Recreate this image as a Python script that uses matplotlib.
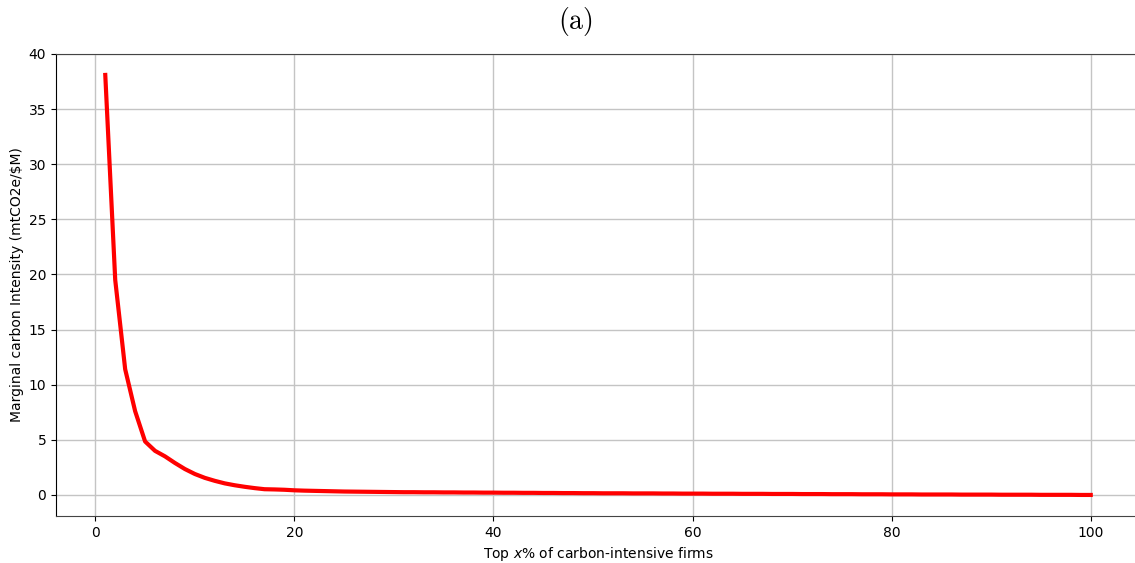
import numpy as np
import matplotlib.pyplot as plt

# top x% of firms
top_pct = list(range(1, 101))
# marginal carbon intensity (mtCO2e/$M)
intensity = [
    38.1, 19.5, 11.4, 7.6, 4.85, 4.0, 3.5, 2.9, 2.35, 1.9,
    1.55, 1.28, 1.05, 0.88, 0.74, 0.62, 0.52, 0.5, 0.47, 0.42,
    0.39, 0.37, 0.35, 0.33, 0.31, 0.3, 0.29, 0.28, 0.27, 0.26,
    0.25, 0.25, 0.24, 0.24, 0.23, 0.23, 0.22, 0.22, 0.21, 0.21,
    0.2, 0.2, 0.19, 0.19, 0.18, 0.18, 0.17, 0.17, 0.16, 0.16,
    0.15, 0.15, 0.15, 0.14, 0.14, 0.14, 0.13, 0.13, 0.12, 0.12,
    0.12, 0.11, 0.11, 0.11, 0.10, 0.10, 0.10, 0.09, 0.09, 0.09,
    0.08, 0.08, 0.08, 0.07, 0.07, 0.07, 0.06, 0.06, 0.06, 0.05,
    0.05, 0.05, 0.04, 0.04, 0.04, 0.04, 0.03, 0.03, 0.03, 0.03,
    0.02, 0.02, 0.02, 0.02, 0.01, 0.01, 0.01, 0.01, 0.0, 0.0,
]

fig = plt.figure(figsize=(11.35, 5.63), dpi=100)
ax = fig.add_axes([56 / 1135, 47 / 563, 1084 / 1135, 462 / 563])

ax.plot(top_pct, intensity, color="red", lw=3)
ax.set_ylim(-1.91, 40.0)
ax.set_xlim(-3.95, 104.95)
ax.set_yticks(np.arange(0, 41, 5))
ax.grid(True, color="#c4c4c4", lw=1)
ax.set_axisbelow(True)

ax.spines["right"].set_visible(False)
ax.spines["top"].set_color("#444444")
ax.spines["bottom"].set_color("#444444")
ax.spines["left"].set_color("black")

ax.set_xlabel("Top $x$% of carbon-intensive firms", fontsize=10)
ax.set_ylabel(r"Marginal carbon Intensity (mtCO2e/\$M)", fontsize=10, labelpad=3)

fig.text(575 / 1135, 1 - 22 / 563, r"$\mathrm{(a)}$", math_fontfamily="cm",
         fontsize=20, ha="center", va="center")

fig.savefig("out.png", dpi=100)
